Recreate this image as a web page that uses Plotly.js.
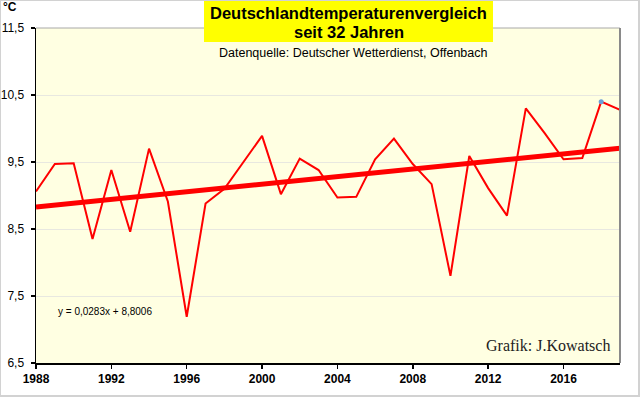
<!DOCTYPE html>
<html>
<head>
<meta charset="utf-8">
<script src="https://cdn.plot.ly/plotly-3.0.1.min.js"></script>
<style>
  html, body { margin: 0; padding: 0; background: #fff; }
  #wrap { position: relative; width: 640px; height: 397px; }
  #chart { width: 640px; height: 397px; }
  #frame { position: absolute; left: 0; top: 0; width: 637px; height: 394px;
           border: 1px solid #d2d2d2; border-right-width: 2px; border-bottom-width: 2px;
           pointer-events: none; box-sizing: content-box; }
</style>
</head>
<body>
<div id="wrap">
  <div id="chart"></div>
  <div id="frame"></div>
</div>
<script>
// Data (annual mean temperature, Germany, °C)
const years = [1988, 1989, 1990, 1991, 1992, 1993, 1994, 1995, 1996, 1997,
               1998, 1999, 2000, 2001, 2002, 2003, 2004, 2005, 2006, 2007,
               2008, 2009, 2010, 2011, 2012, 2013, 2014, 2015, 2016, 2017,
               2018, 2019];
const temps = [9.06, 9.47, 9.48, 8.35, 9.38, 8.46, 9.70, 8.91, 7.19, 8.88,
               9.10, 9.50, 9.89, 9.02, 9.55, 9.38, 8.97, 8.98, 9.54, 9.85,
               9.47, 9.17, 7.80, 9.59, 9.11, 8.70, 10.30, 9.93, 9.54, 9.56,
               10.40, 10.28];
// Linear trend as stated on the chart: y = 0,0283x + 8,8006 (x = 1..32)
const trendSlope = 0.0283;
const trendIntercept = 8.8006;
const highlightYear = 2018;
const xTickVals = [1988, 1992, 1996, 2000, 2004, 2008, 2012, 2016];

const trendY = years.map((y, i) => trendSlope * (i + 1) + trendIntercept);
const hi = years.indexOf(highlightYear);

const traces = [
  { x: years, y: temps, type: 'scatter', mode: 'lines',
    line: { color: '#FF0000', width: 2 }, hoverinfo: 'x+y' },
  { x: years, y: trendY, type: 'scatter', mode: 'lines',
    line: { color: '#FF0000', width: 5 }, hoverinfo: 'skip' },
  { x: [years[hi]], y: [temps[hi]], type: 'scatter', mode: 'markers',
    marker: { color: '#6A9FD8', size: 5, symbol: 'circle' }, hoverinfo: 'x+y' }
];

const L = 36, R = 20, T = 28, B = 34, W = 640, H = 397;
const pw = W - L - R, ph = H - T - B;
const px = v => (v - L) / pw;
const py = v => (H - B - v) / ph;
const SANS = 'Liberation Sans, Arial, sans-serif';

const layout = {
  width: W, height: H,
  margin: { l: L, r: R, t: T, b: B, pad: 0 },
  paper_bgcolor: '#FFFFFF',
  plot_bgcolor: '#FFFFE2',
  separators: ',.',
  showlegend: false,
  font: { family: SANS, size: 12, color: '#000' },
  xaxis: {
    range: [1988, 2019], tickvals: xTickVals, ticks: 'outside', ticklen: 4,
    tickcolor: '#000', tickwidth: 1.5, showgrid: false, zeroline: false,
    showline: true, linecolor: '#000', linewidth: 1.5,
    tickfont: { family: SANS, size: 12, weight: 'bold', color: '#000' }
  },
  yaxis: {
    range: [6.5, 11.5], tick0: 6.5, dtick: 1, tickformat: '.1f',
    ticks: 'outside', ticklen: 4, tickcolor: '#000', tickwidth: 1.5,
    ticklabelstandoff: 4,
    showgrid: true, gridcolor: '#E8E8E0', gridwidth: 1, zeroline: false,
    showline: true, linecolor: '#000', linewidth: 1.5,
    tickfont: { family: SANS, size: 12, color: '#000' }
  },
  shapes: [
    { type: 'line', xref: 'paper', yref: 'paper', x0: 0, x1: 1, y0: 1, y1: 1,
      line: { color: '#A8A8A8', width: 1 } },
    { type: 'line', xref: 'paper', yref: 'paper', x0: 1, x1: 1, y0: 0, y1: 1,
      line: { color: '#8A8A8A', width: 2 } },
    { type: 'rect', xref: 'paper', yref: 'paper', layer: 'above',
      x0: px(204), x1: px(493), y0: py(42), y1: py(1),
      fillcolor: '#FFFF00', line: { width: 0 } }
  ],
  annotations: [
    { text: '°C', xref: 'paper', yref: 'paper', x: px(1), y: py(7.5),
      xanchor: 'left', yanchor: 'middle', showarrow: false,
      font: { family: SANS, size: 12, weight: 'bold', color: '#000' } },
    { text: 'Deutschlandtemperaturenvergleich', xref: 'paper', yref: 'paper',
      x: px(348.5), y: py(13), xanchor: 'center', yanchor: 'middle', showarrow: false,
      font: { family: SANS, size: 16.5, weight: 'bold', color: '#000' } },
    { text: 'seit 32 Jahren', xref: 'paper', yref: 'paper',
      x: px(348.5), y: py(32), xanchor: 'center', yanchor: 'middle', showarrow: false,
      font: { family: SANS, size: 16.5, weight: 'bold', color: '#000' } },
    { text: 'Datenquelle: Deutscher Wetterdienst, Offenbach', xref: 'paper', yref: 'paper',
      x: px(352.5), y: py(53), xanchor: 'center', yanchor: 'middle', showarrow: false,
      font: { family: SANS, size: 12.5, color: '#000' } },
    { text: 'y = 0,0283x + 8,8006', xref: 'paper', yref: 'paper',
      x: px(56), y: py(311), xanchor: 'left', yanchor: 'middle', showarrow: false,
      font: { family: SANS, size: 10, color: '#000' } },
    { text: 'Grafik: J.Kowatsch', xref: 'paper', yref: 'paper',
      x: px(612), y: py(345), xanchor: 'right', yanchor: 'middle', showarrow: false,
      font: { family: 'Liberation Serif, Times New Roman, serif', size: 16, color: '#222' } }
  ]
};

Plotly.newPlot('chart', traces, layout, { displayModeBar: false, staticPlot: true });
</script>
</body>
</html>
